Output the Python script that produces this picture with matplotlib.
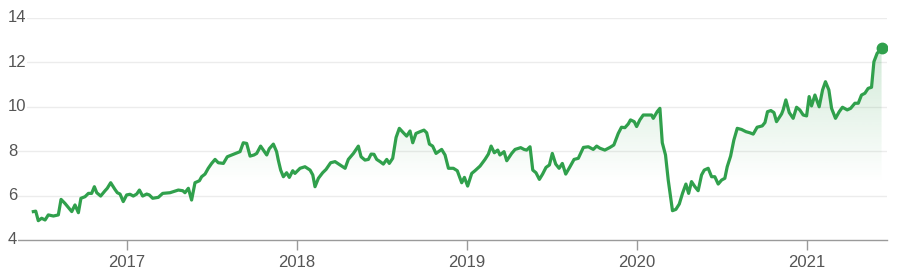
import matplotlib
matplotlib.use("Agg")
import matplotlib.pyplot as plt
import matplotlib.transforms as mtransforms
import numpy as np

plt.rcParams['font.family'] = ['Liberation Sans', 'DejaVu Sans']

# Datos (fecha como año fraccionario, valor)
years = [
    2016.449, 2016.463, 2016.478, 2016.498, 2016.518, 2016.537, 2016.567, 2016.596,
    2016.612, 2016.635, 2016.675, 2016.694, 2016.714, 2016.729, 2016.753, 2016.773,
    2016.792, 2016.808, 2016.822, 2016.845, 2016.871, 2016.884, 2016.904, 2016.929,
    2016.943, 2016.959, 2016.978, 2016.998, 2017.018, 2017.037, 2017.057, 2017.073,
    2017.092, 2017.116, 2017.131, 2017.151, 2017.184, 2017.210, 2017.253, 2017.302,
    2017.328, 2017.341, 2017.361, 2017.380, 2017.400, 2017.426, 2017.439, 2017.459,
    2017.478, 2017.498, 2017.518, 2017.537, 2017.567, 2017.590, 2017.626, 2017.665,
    2017.684, 2017.704, 2017.724, 2017.747, 2017.763, 2017.786, 2017.822, 2017.837,
    2017.861, 2017.880, 2017.890, 2017.904, 2017.920, 2017.939, 2017.955, 2017.975,
    2017.988,
    2018.018, 2018.047, 2018.077, 2018.093, 2018.106, 2018.126, 2018.151, 2018.171,
    2018.198, 2018.224, 2018.253, 2018.283, 2018.302, 2018.332, 2018.361, 2018.377,
    2018.400, 2018.420, 2018.436, 2018.453, 2018.469, 2018.489, 2018.508, 2018.528,
    2018.543, 2018.563, 2018.583, 2018.602, 2018.626, 2018.645, 2018.665, 2018.681,
    2018.700, 2018.724, 2018.747, 2018.763, 2018.779, 2018.798, 2018.818, 2018.851,
    2018.871, 2018.891, 2018.920, 2018.943, 2018.969, 2018.985, 2019.004, 2019.028,
    2019.047, 2019.077, 2019.106, 2019.126, 2019.142, 2019.161, 2019.181, 2019.194,
    2019.218, 2019.234, 2019.263, 2019.283, 2019.316, 2019.336, 2019.351, 2019.371,
    2019.387, 2019.406, 2019.426, 2019.445, 2019.465, 2019.485, 2019.502, 2019.522,
    2019.542, 2019.561, 2019.581, 2019.606, 2019.630, 2019.655, 2019.685, 2019.714,
    2019.743, 2019.763, 2019.783,
    2019.811, 2019.841, 2019.864, 2019.890, 2019.909, 2019.929, 2019.949, 2019.962,
    2019.984, 2019.998, 2020.017, 2020.037, 2020.066, 2020.086, 2020.096, 2020.119,
    2020.135, 2020.149, 2020.168, 2020.184, 2020.209, 2020.229, 2020.249, 2020.268,
    2020.288, 2020.304, 2020.321, 2020.341, 2020.360, 2020.380, 2020.396, 2020.419,
    2020.439, 2020.458, 2020.478, 2020.498, 2020.517, 2020.531, 2020.551, 2020.570,
    2020.590, 2020.615, 2020.641, 2020.664, 2020.684, 2020.707, 2020.737, 2020.753,
    2020.768, 2020.788, 2020.806, 2020.821, 2020.851, 2020.860, 2020.876, 2020.896,
    2020.919, 2020.939, 2020.958, 2020.978, 2020.998, 2021.013, 2021.027, 2021.047,
    2021.072, 2021.092, 2021.109, 2021.129, 2021.145, 2021.168, 2021.190, 2021.209,
    2021.237, 2021.257, 2021.282, 2021.302, 2021.321, 2021.341, 2021.360, 2021.380,
    2021.394, 2021.413, 2021.439,
]
values = [
    5.28, 5.30, 4.87, 4.98, 4.90, 5.13, 5.08, 5.13,
    5.83, 5.65, 5.28, 5.58, 5.23, 5.88, 5.95, 6.10,
    6.10, 6.40, 6.13, 5.98, 6.22, 6.33, 6.58, 6.28,
    6.13, 6.07, 5.73, 6.03, 6.06, 5.98, 6.07, 6.25,
    5.98, 6.07, 6.03, 5.88, 5.92, 6.10, 6.13, 6.25,
    6.22, 6.13, 6.33, 5.80, 6.58, 6.67, 6.85, 6.97,
    7.23, 7.45, 7.63, 7.48, 7.45, 7.75, 7.86, 7.98,
    8.38, 8.35, 7.78, 7.83, 7.90, 8.23, 7.83, 8.11,
    8.32, 7.98, 7.60, 7.15, 6.85, 7.03, 6.82, 7.12,
    7.00,
    7.23, 7.30, 7.15, 6.93, 6.40, 6.78, 7.03, 7.18,
    7.48, 7.53, 7.38, 7.23, 7.63, 7.90, 8.23, 7.75,
    7.60, 7.63, 7.87, 7.86, 7.63, 7.53, 7.42, 7.63,
    7.45, 7.68, 8.62, 9.03, 8.83, 8.68, 8.91, 8.38,
    8.80, 8.88, 8.95, 8.83, 8.32, 8.23, 7.90, 8.08,
    7.83, 7.23, 7.23, 7.12, 6.58, 6.82, 6.43, 7.00,
    7.12, 7.33, 7.63, 7.87, 8.23, 7.93, 8.05, 7.83,
    7.98, 7.57, 7.90, 8.08, 8.16, 8.08, 8.05, 8.20,
    7.15, 7.03, 6.73, 6.97, 7.27, 7.38, 7.90, 7.42,
    7.23, 7.45, 6.97, 7.30, 7.63, 7.68, 8.17, 8.20,
    8.08, 8.23, 8.13,
    8.05, 8.17, 8.28, 8.80, 9.08, 9.06, 9.23, 9.41,
    9.33, 9.11, 9.41, 9.63, 9.63, 9.63, 9.48, 9.78,
    9.93, 8.38, 7.83, 6.70, 5.32, 5.38, 5.62, 6.10,
    6.52, 6.10, 6.63, 6.40, 6.22, 6.93, 7.15, 7.23,
    6.85, 6.85, 6.52, 6.70, 6.78, 7.30, 7.78, 8.50,
    9.03, 8.98, 8.88, 8.83, 8.77, 9.08, 9.14, 9.29,
    9.78, 9.83, 9.74, 9.33, 9.68, 9.86, 10.31, 9.74,
    9.48, 9.98, 9.86, 9.63, 9.59, 10.46, 10.04, 10.53,
    10.00, 10.76, 11.13, 10.76, 9.93, 9.48, 9.78, 9.98,
    9.86, 9.93, 10.16, 10.16, 10.53, 10.61, 10.83, 10.88,
    12.03, 12.41, 12.63,
]
year_ticks = [2017, 2018, 2019, 2020, 2021]
y_ticks = [4, 6, 8, 10, 12, 14]

line_color = '#30a04c'
text_color = '#555555'

x = np.array(years)
y = np.array(values)

fig = plt.figure(figsize=(9, 2.73), dpi=100)
ax = fig.add_axes([16 / 900, 1 - 240 / 273, 871 / 900, 222 / 273])
ax.set_xlim(2016.347, 2021.471)
ax.set_ylim(4, 14)

# Rejilla horizontal
for v in y_ticks[1:]:
    ax.axhline(v, color='#ececec', lw=1, zorder=0)

# Relleno degradado bajo la linea
top = y.max()
grad = np.linspace(0, 1, 200).reshape(-1, 1)
alpha = np.clip((grad * (top - 4) + 4 - 6.6) / (top - 6.6), 0, 1) * 0.22
rgba = np.zeros((200, 1, 4))
rgba[..., 0] = 0x30 / 255
rgba[..., 1] = 0xa0 / 255
rgba[..., 2] = 0x4c / 255
rgba[..., 3] = alpha
img = ax.imshow(rgba, extent=[x[0], x[-1], 4, top], origin='lower',
                aspect='auto', zorder=1, interpolation='bilinear')
poly = ax.fill_between(x, y, 4, color='none', lw=0)
path = poly.get_paths()[0]
img.set_clip_path(path, transform=ax.transData)

ax.plot(x, y, color=line_color, lw=2.3, zorder=3, solid_joinstyle='round')
ax.plot(x[-1], y[-1], 'o', color=line_color, ms=7.5, zorder=4)

# Ejes
for s in ['top', 'right', 'left']:
    ax.spines[s].set_visible(False)
ax.spines['bottom'].set_color('#9a9a9a')
ax.spines['bottom'].set_linewidth(1)
ax.set_xticks(year_ticks)
ax.set_xticklabels([str(t) for t in year_ticks])
ax.tick_params(axis='x', length=7, width=1, color='#9a9a9a', pad=4,
               labelsize=12, labelcolor=text_color)
ax.set_yticks([])

trans = mtransforms.blended_transform_factory(fig.transFigure, ax.transData)
for v in y_ticks:
    ax.text(8 / 900, v, str(v), transform=trans, ha='left', va='center',
            fontsize=12, color=text_color, zorder=5,
            bbox=dict(facecolor='white', edgecolor='none', pad=0.5))

fig.savefig('out.png', dpi=100)
